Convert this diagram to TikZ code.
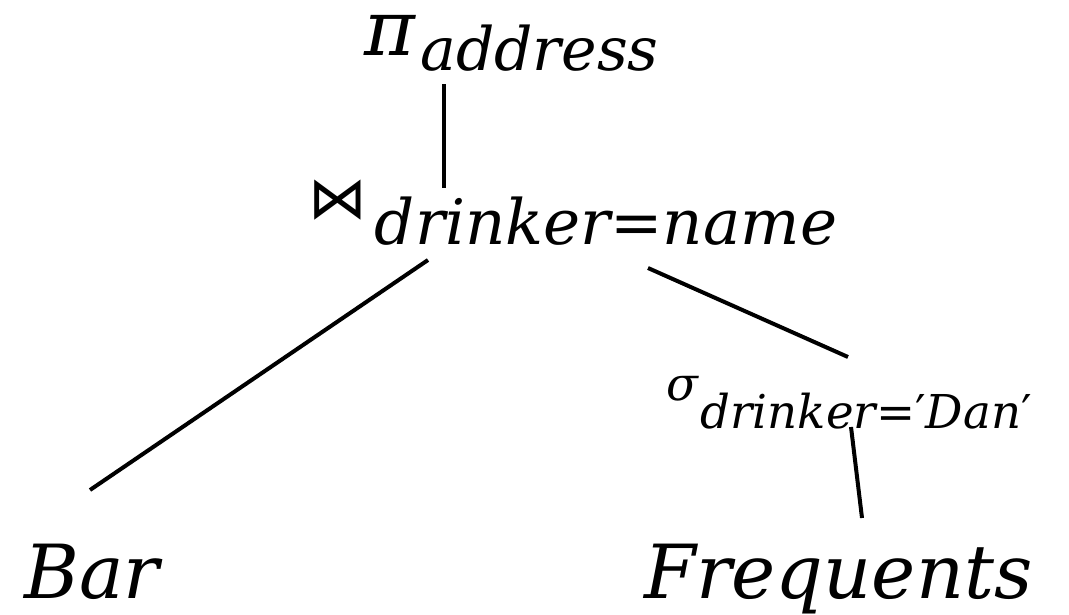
\documentclass[tikz,border=0pt]{standalone}
\usepackage{fontspec}
\newfontfamily\serifit{DejaVu Serif Italic}
\newfontfamily\glyphs{DejaVu Sans}
\tikzset{
  lbl/.style={anchor=base west, inner sep=0pt, font=\serifit},
  rel/.style={lbl, font=\serifit\fontsize{56pt}{56pt}\selectfont},
  edge/.style={line width=3pt, line cap=butt}
}
% operator with a lowered subscript
\newcommand\opsub[5]{{\fontsize{#1}{#1}\selectfont #2}\raisebox{-#3}{\fontsize{#4}{#4}\selectfont #5}}
\newcommand\pr{{\glyphs ′}}
\begin{document}
\begin{tikzpicture}[x=0.75pt,y=-0.75pt]
  \useasboundingbox (0,0) rectangle (1069,614);

  % operators
  \node[lbl] (proj) at (364,55)
    {\opsub{58pt}{π}{11.25pt}{45pt}{\kern4pt address}};
  \node[lbl] (join) at (308,218)
    {\opsub{44pt}{\glyphs ⋈}{20pt}{47pt}{\kern6pt drinker=name}};
  \node[lbl] (sel) at (666,400)
    {\opsub{35pt}{σ}{21pt}{35pt}{\kern2pt drinker=\pr Dan\pr}};

  % relations
  \node[rel] (bar) at (24,598) {Bar};
  \node[rel] (freq) at (644,598) {Frequents};

  % connector end points
  \coordinate (projB) at (444,84);
  \coordinate (joinT) at (444,188);
  \coordinate (joinL) at (428,260);
  \coordinate (barT)  at (90,490);
  \coordinate (joinR) at (648,268);
  \coordinate (selT)  at (848,357);
  \coordinate (selB)  at (851,427);
  \coordinate (freqT) at (862,518);

  \draw[edge] (projB) -- (joinT);
  \draw[edge] (joinL) -- (barT);
  \draw[edge] (joinR) -- (selT);
  \draw[edge] (selB) -- (freqT);
\end{tikzpicture}
\end{document}
